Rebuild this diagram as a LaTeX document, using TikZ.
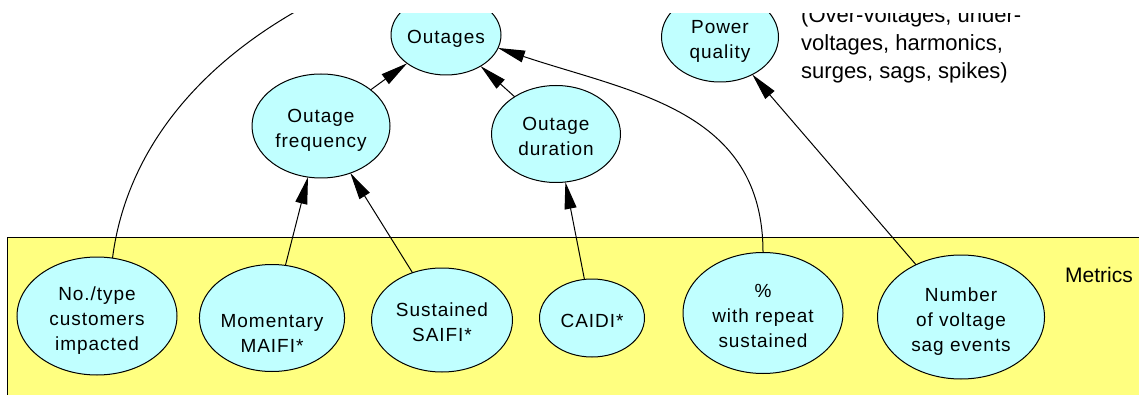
\documentclass[tikz,border=0pt]{standalone}
\usepackage{fontspec}
\setmainfont{Liberation Sans}
\newfontfamily\ovalfont[LetterSpace=5]{Liberation Sans}
\usetikzlibrary{arrows.meta,shapes.geometric}
\definecolor{metricsyellow}{RGB}{255,255,128}
\definecolor{ovalcyan}{RGB}{192,255,255}
% centred multi-line text, rows spaced by the baseline skip, set a little low
\newcommand{\ovallines}[1]{\raisebox{-4pt}[\height][\depth]{\begin{tabular}{@{}c@{}}#1\end{tabular}}}
\begin{document}
\begin{tikzpicture}[x=1pt,y=-1pt,
  oval/.style={ellipse, draw=black, line width=1pt, fill=ovalcyan,
    inner sep=0pt, outer sep=0pt, font=\ovalfont\fontsize{19}{25}\selectfont},
  link/.style={draw=black, line width=1pt},
  arrowlink/.style={link, -{Triangle[length=27pt,width=12pt]}},
  note/.style={inner sep=0pt, anchor=base west, text=black}]
\useasboundingbox (0,0) rectangle (1139,395);
\fill[white] (0,0) rectangle (1139,395);
\begin{scope}
\clip (0,14) rectangle (1139,395);
% metrics band
\draw[fill=metricsyellow, line width=1pt] (7,237) rectangle (1160,420);
\node[note, font=\fontsize{21}{26}\selectfont] (metrics) at (1065,282) {Metrics};
% objectives
\node[oval, minimum width=110, minimum height=80] (outages) at (446,35) {\ovallines{Outages}};
\node[oval, minimum width=117, minimum height=90] (pq) at (720,37) {\ovallines{Power\\quality}};
\node[note, font=\fontsize{22}{28}\selectfont] (pqnote) at (801,23)
  {\begin{tabular}[t]{@{}l@{}}(Over-voltages, under-\\voltages, harmonics,\\surges, sags, spikes)\end{tabular}};
\node[oval, minimum width=138, minimum height=104] (ofreq) at (321,126) {\ovallines{Outage\\frequency}};
\node[oval, minimum width=129, minimum height=97] (odur) at (556,134) {\ovallines{Outage\\duration}};
% metrics
\node[oval, minimum width=160, minimum height=118] (cust) at (97,316) {\ovallines{No./type\\customers\\impacted}};
\node[oval, minimum width=141, minimum height=107] (mom) at (272,318) {\ovallines{\\Momentary\\MAIFI*}};
\node[oval, minimum width=141, minimum height=104] (sust) at (442,320) {\ovallines{Sustained\\SAIFI*}};
\node[oval, minimum width=105, minimum height=78] (caidi) at (592,318) {\ovallines{CAIDI*}};
\node[oval, minimum width=160, minimum height=121] (pct) at (763,313) {\ovallines{\%\\with repeat\\sustained}};
\node[oval, minimum width=167, minimum height=124] (nvs) at (961,317) {\ovallines{Number\\of voltage\\sag events}};
\coordinate (custend) at (300,9);
% influences
\draw[arrowlink] (ofreq) -- (outages);
\draw[arrowlink] (odur) -- (outages);
\draw[arrowlink] (mom) -- (ofreq);
\draw[arrowlink] (sust) -- (ofreq);
\draw[arrowlink] (caidi) -- (odur);
\draw[arrowlink] (nvs) -- (pq);
\draw[arrowlink] (pct.north) .. controls (763,110) and (633,93) .. (outages.-14);
\draw[link] (cust.75) .. controls (125,160) and (188,72) .. (custend);
\end{scope}
\end{tikzpicture}
\end{document}
